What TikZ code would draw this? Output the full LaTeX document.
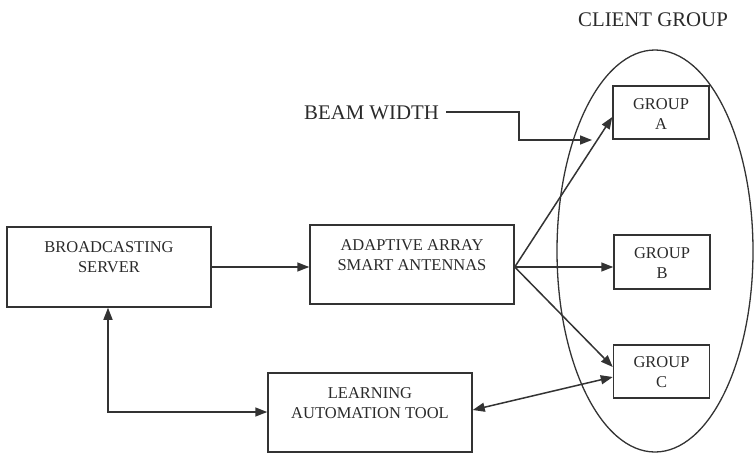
\documentclass[tikz,border=0pt]{standalone}
\usepackage{fontspec}
\setmainfont{Liberation Serif}
\usetikzlibrary{arrows.meta,shapes.geometric}
\definecolor{ink}{HTML}{333333}
\definecolor{textink}{HTML}{2A2A2A}
\begin{document}
\begin{tikzpicture}[x=1pt,y=-1pt,
  box/.style={draw=ink,line width=1.5pt,rectangle,inner sep=0pt},
  boxtext/.style={text=textink,font=\fontsize{16.5}{20.5}\selectfont,align=center,inner sep=0pt},
  tag/.style={text=textink,font=\fontsize{20.8}{24}\selectfont,inner sep=0pt},
  link/.style={draw=ink,line width=1.5pt},
  tip/.style={-{Triangle[length=12pt,width=9pt]}},
  tips/.style={{Triangle[length=12pt,width=9pt]}-{Triangle[length=12pt,width=9pt]}}]
\useasboundingbox (0,0) rectangle (755,455);

% main boxes
\node[box,minimum width=204pt,minimum height=80pt] (bs) at (109,267) {};
\node[boxtext] (bst) at (109,257) {BROADCASTING\\SERVER};
\node[box,minimum width=204pt,minimum height=79pt] (aa) at (412,264.5) {};
\node[boxtext] (aat) at (412,255) {ADAPTIVE ARRAY\\SMART ANTENNAS};
\node[box,minimum width=204pt,minimum height=79pt] (lat) at (370,412.5) {};
\node[boxtext] (latt) at (370,403) {LEARNING\\AUTOMATION TOOL};

% client group
\node[draw=ink,line width=1.3pt,ellipse,minimum width=196pt,minimum height=402pt,inner sep=0pt] (cg) at (655,251) {};
\node[tag] (cgt) at (653,20) {CLIENT GROUP};
\node[box,minimum width=96pt,minimum height=53pt] (ga) at (661,112.5) {};
\node[boxtext] (gat) at (661,114) {GROUP\\A};
\node[box,minimum width=96pt,minimum height=54pt] (gb) at (662,262) {};
\node[boxtext] (gbt) at (662,263) {GROUP\\B};
\node[box,minimum width=96pt,minimum height=53pt] (gc) at (661.5,371.5) {};
\node[boxtext] (gct) at (661.5,372) {GROUP\\C};

% beam width label
\node[tag,anchor=east] (bw) at (439,113) {BEAM WIDTH};
\coordinate (bwa) at (446,112);
\coordinate (bwb) at (519,112);
\coordinate (bwc) at (519,140);
\coordinate (bwd) at (592,140);
\draw[link,tip] (bwa) -- (bwb) -- (bwc) -- (bwd);

% connectors
\coordinate (aaout) at (aa.east |- 0,267);
\draw[link,tip] (bs.east |- aaout) -- (aa.west |- aaout);
\draw[link,tip] (aaout) -- (ga.west |- 0,117);
\draw[link,tip] (aaout) -- (gb.west |- aaout);
\draw[link,tip] (aaout) -- (gc.west |- 0,367);
\draw[link,tips] (lat.east |- 0,410) -- (gc.west |- 0,377);
\draw[link,tips] (bs.south -| 108,0) -- (108,412) -- (lat.west |- 0,412);
\end{tikzpicture}
\end{document}
